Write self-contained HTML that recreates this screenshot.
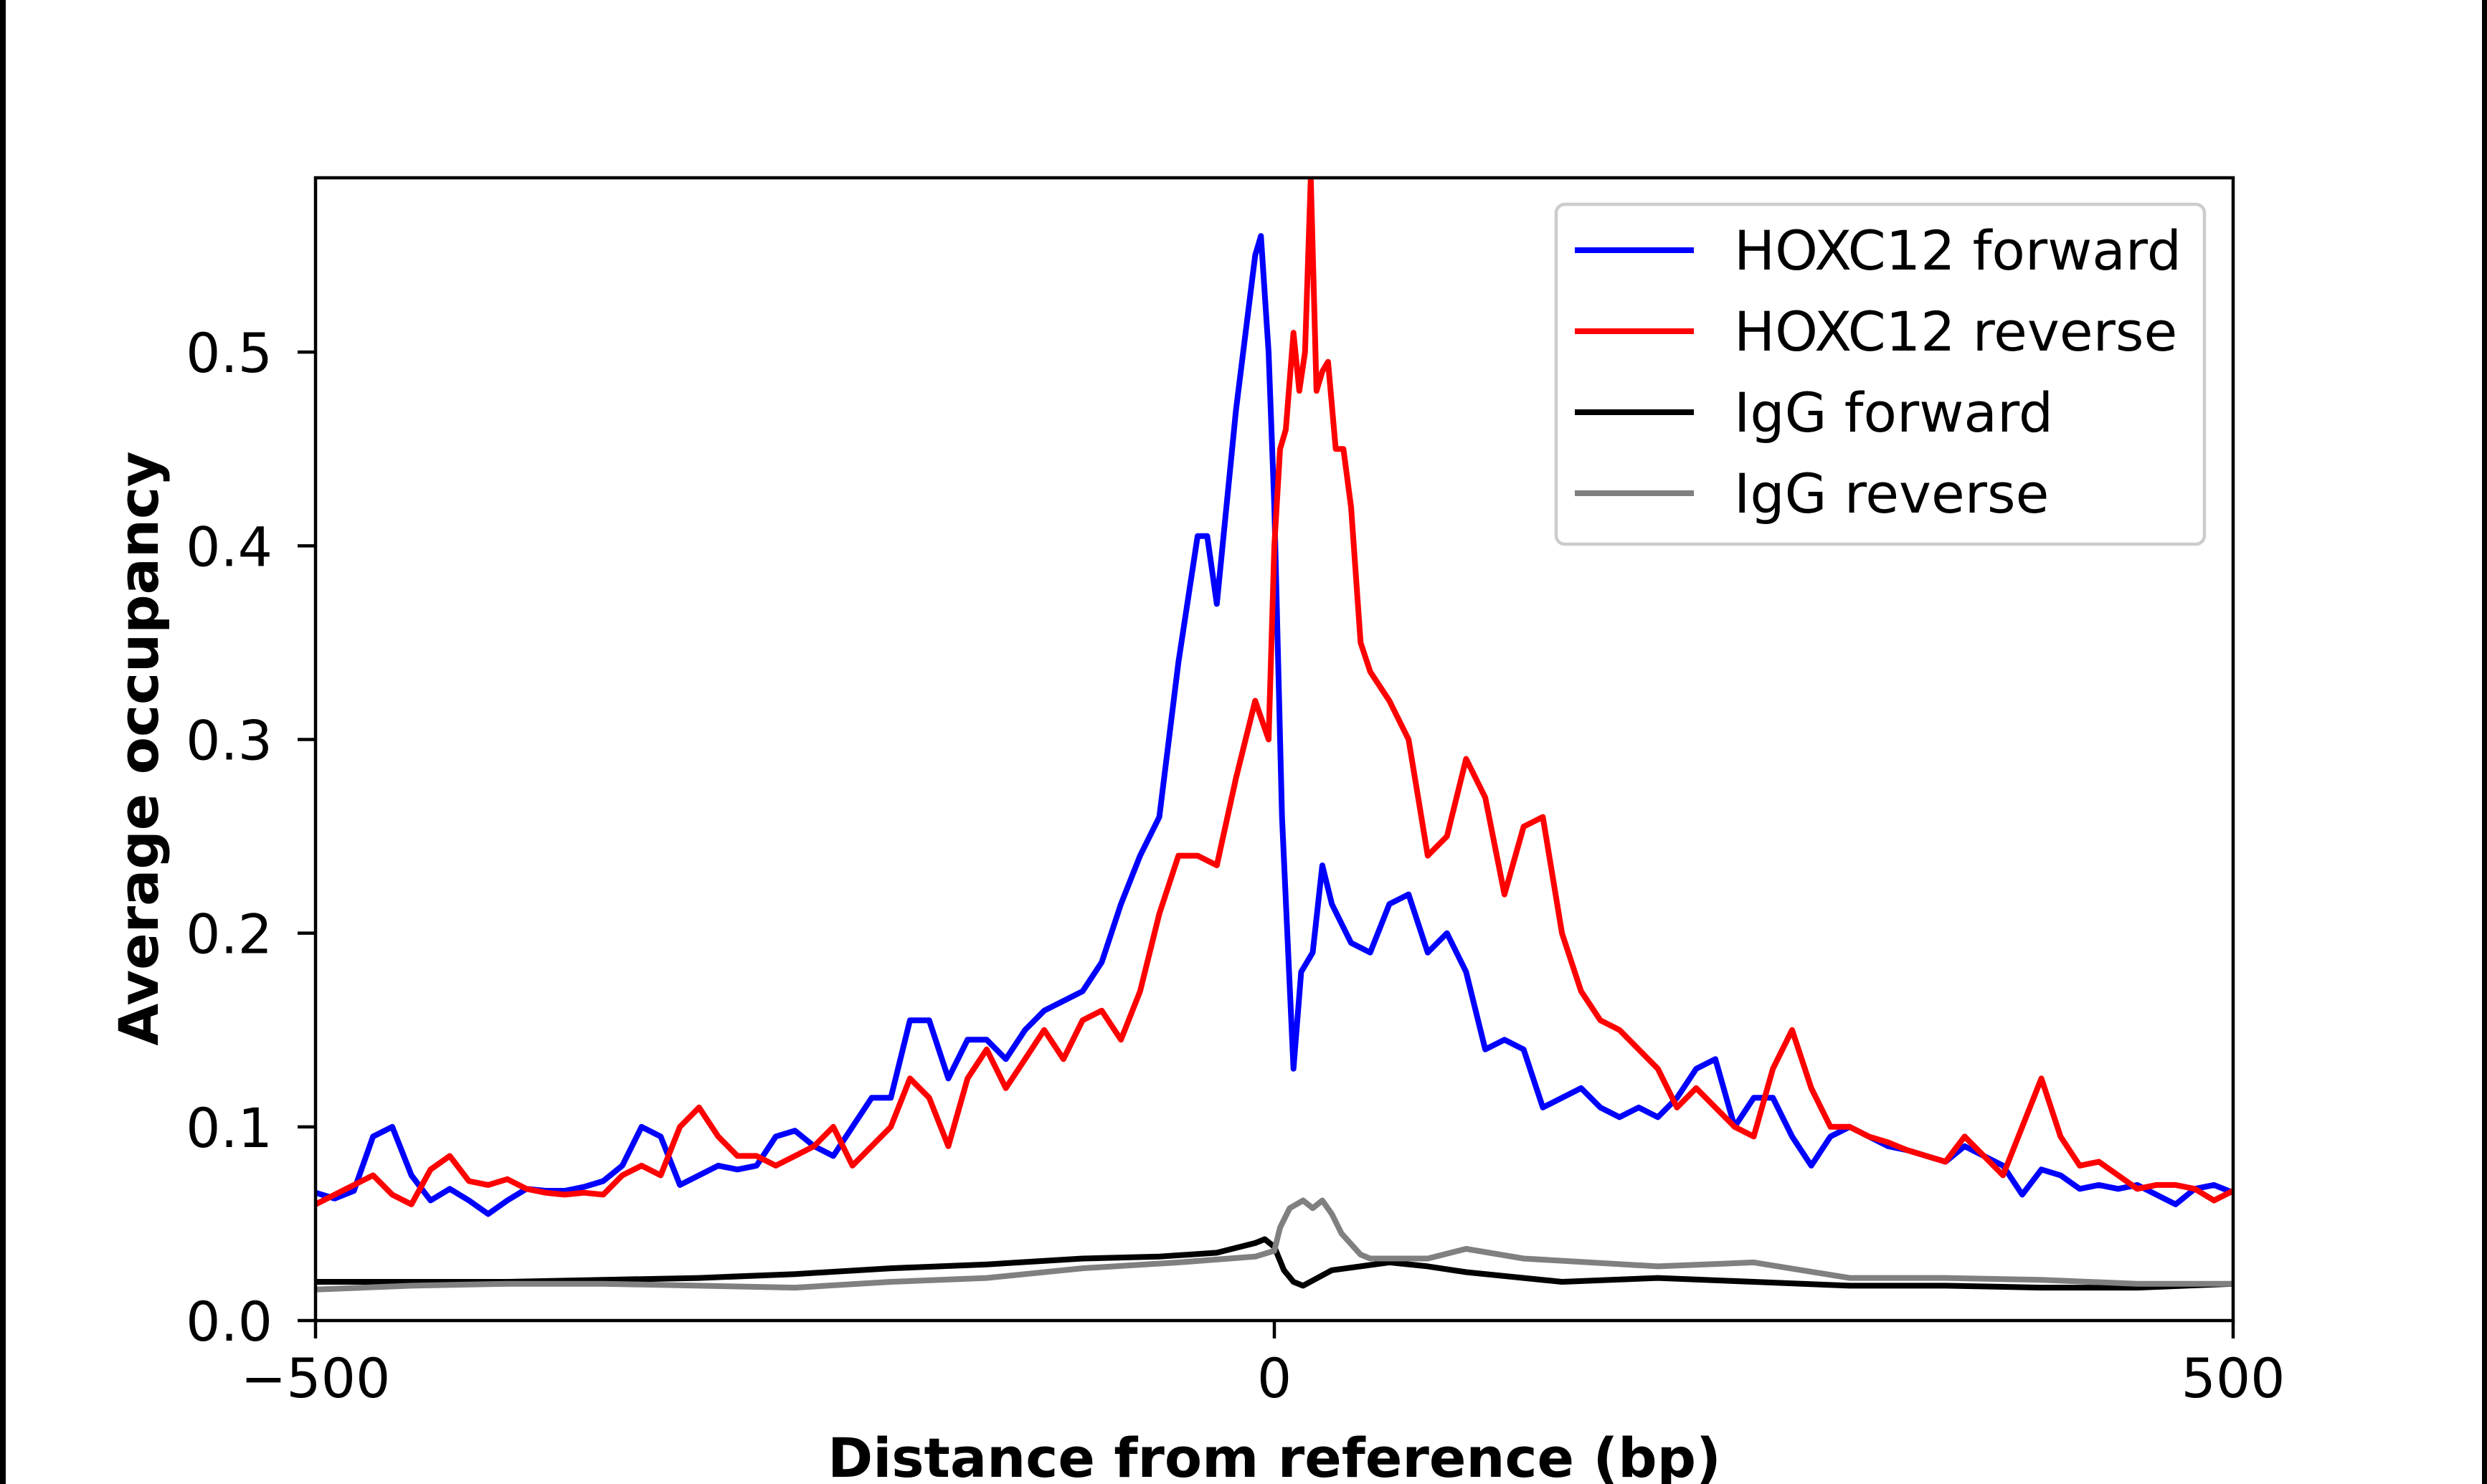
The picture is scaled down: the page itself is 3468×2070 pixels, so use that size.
<!DOCTYPE html>
<html><head><meta charset="utf-8"><style>
html,body{margin:0;padding:0;background:#fff;}
svg{display:block;font-family:"DejaVu Sans","Liberation Sans",sans-serif;}
</style></head><body>
<svg id="chart" width="3468" height="2070" viewBox="0 0 3468 2070" xmlns="http://www.w3.org/2000/svg">
<rect x="0" y="0" width="3468" height="2070" fill="#fff"/>
<rect x="0" y="0" width="8" height="2070" fill="#000"/>
<rect x="3461" y="0" width="7" height="2070" fill="#000"/>
<g id="series"></g>
<g id="axes"></g>
<g id="legend"></g>
</svg>
<script>
const xDomain = [-500, 500];
const yDomain = [0, 0.59];
const yTicks = [0.0, 0.1, 0.2, 0.3, 0.4, 0.5];
const yTickLabels = ["0.0", "0.1", "0.2", "0.3", "0.4", "0.5"];
const xTicks = [-500, 0, 500];
const xTickLabels = ["\u2212500", "0", "500"];
const seriesNames = ["HOXC12 forward", "HOXC12 reverse", "IgG forward", "IgG reverse"];

const blueX = [-500,-490,-480,-470,-460,-450,-440,-430,-420,-410,-400,-390,-380,-370,-360,-350,-340,-330,-320,-310,-300,-290,-280,-270,-260,-250,-240,-230,-220,-210,-200,-190,-180,-170,-160,-150,-140,-130,-120,-110,-100,-90,-80,-70,-60,-50,-40,-35,-30,-20,-10,-7,-3,0,4,10,14,20,25,30,40,50,60,70,80,90,100,110,120,130,140,150,160,170,180,190,200,210,220,230,240,250,260,270,280,290,300,310,320,330,340,350,360,370,380,390,400,410,420,430,440,450,460,470,480,490,500];
const blueY = [0.066,0.063,0.067,0.095,0.100,0.075,0.062,0.068,0.062,0.055,0.062,0.068,0.067,0.067,0.069,0.072,0.080,0.100,0.095,0.070,0.075,0.080,0.078,0.080,0.095,0.098,0.090,0.085,0.100,0.115,0.115,0.155,0.155,0.125,0.145,0.145,0.135,0.150,0.160,0.165,0.170,0.185,0.215,0.240,0.260,0.340,0.405,0.405,0.370,0.470,0.550,0.560,0.500,0.420,0.260,0.130,0.180,0.190,0.235,0.215,0.195,0.190,0.215,0.220,0.190,0.200,0.180,0.140,0.145,0.140,0.110,0.115,0.120,0.110,0.105,0.110,0.105,0.115,0.130,0.135,0.100,0.115,0.115,0.095,0.080,0.095,0.100,0.095,0.090,0.088,0.085,0.082,0.090,0.085,0.080,0.065,0.078,0.075,0.068,0.070,0.068,0.070,0.065,0.060,0.068,0.070,0.066];

const redX = [-500,-490,-480,-470,-460,-450,-440,-430,-420,-410,-400,-390,-380,-370,-360,-350,-340,-330,-320,-310,-300,-290,-280,-270,-260,-250,-240,-230,-220,-210,-200,-190,-180,-170,-160,-150,-140,-130,-120,-110,-100,-90,-80,-70,-60,-50,-40,-30,-20,-10,-3,0,3,6,10,13,16,19,22,25,28,32,36,40,45,50,60,70,80,90,100,110,120,130,140,150,160,170,180,190,200,210,220,230,240,250,260,270,280,290,300,310,320,330,340,350,360,370,380,390,400,410,420,430,440,450,460,470,480,490,500];
const redY = [0.060,0.065,0.070,0.075,0.065,0.060,0.078,0.085,0.072,0.070,0.073,0.068,0.066,0.065,0.066,0.065,0.075,0.080,0.075,0.100,0.110,0.095,0.085,0.085,0.080,0.085,0.090,0.100,0.080,0.090,0.100,0.125,0.115,0.090,0.125,0.140,0.120,0.135,0.150,0.135,0.155,0.160,0.145,0.170,0.210,0.240,0.240,0.235,0.280,0.320,0.300,0.400,0.450,0.460,0.510,0.480,0.500,0.590,0.480,0.490,0.495,0.450,0.450,0.420,0.350,0.335,0.320,0.300,0.240,0.250,0.290,0.270,0.220,0.255,0.260,0.200,0.170,0.155,0.150,0.140,0.130,0.110,0.120,0.110,0.100,0.095,0.130,0.150,0.120,0.100,0.100,0.095,0.092,0.088,0.085,0.082,0.095,0.085,0.075,0.100,0.125,0.095,0.080,0.082,0.075,0.068,0.070,0.070,0.068,0.062,0.067];

const blackX = [-500,-450,-400,-350,-300,-250,-200,-150,-100,-60,-30,-10,-5,0,5,10,15,30,60,80,100,150,200,250,300,350,400,450,500];
const blackY = [0.020,0.020,0.020,0.021,0.022,0.024,0.027,0.029,0.032,0.033,0.035,0.040,0.042,0.038,0.026,0.020,0.018,0.026,0.030,0.028,0.025,0.020,0.022,0.020,0.018,0.018,0.017,0.017,0.019];

const grayX = [-500,-450,-400,-350,-300,-250,-200,-150,-100,-50,-10,0,3,8,15,20,25,30,35,45,50,80,100,130,200,250,300,350,400,450,500];
const grayY = [0.016,0.018,0.019,0.019,0.018,0.017,0.020,0.022,0.027,0.030,0.033,0.036,0.048,0.058,0.062,0.058,0.062,0.055,0.045,0.034,0.032,0.032,0.037,0.032,0.028,0.030,0.022,0.022,0.021,0.019,0.019];

const L = 440, R = 3114, T = 248, B = 1842;
const NS = "http://www.w3.org/2000/svg";
function sx(v){ return L + (v - xDomain[0]) / (xDomain[1] - xDomain[0]) * (R - L); }
function sy(v){ return B - (v - yDomain[0]) / (yDomain[1] - yDomain[0]) * (B - T); }
function mk(tag, attrs, parent){
  const e = document.createElementNS(NS, tag);
  for (const k in attrs) e.setAttribute(k, attrs[k]);
  parent.appendChild(e);
  return e;
}
const gS = document.getElementById('series');
const gA = document.getElementById('axes');
const gL = document.getElementById('legend');

const defs = mk('defs', {}, gS);
const cp = mk('clipPath', {id:'clip'}, defs);
mk('rect', {x:L, y:T, width:R-L, height:B-T}, cp);

const series = [
  {xs: blueX, ys: blueY, color: '#0000ff', name: 'hoxc12-forward-line'},
  {xs: redX, ys: redY, color: '#ff0000', name: 'hoxc12-reverse-line'},
  {xs: blackX, ys: blackY, color: '#000000', name: 'igg-forward-line'},
  {xs: grayX, ys: grayY, color: '#808080', name: 'igg-reverse-line'}
];
series.forEach(s => {
  const d = s.xs.map((x, i) => (i ? 'L' : 'M') + sx(x).toFixed(1) + ',' + sy(s.ys[i]).toFixed(1)).join(' ');
  const p = mk('path', {d: d, fill: 'none', stroke: s.color, 'stroke-width': 8, 'stroke-linejoin': 'round', 'clip-path': 'url(#clip)'}, gS);
  
  
});

const frame = mk('rect', {x:L, y:T, width:R-L, height:B-T, fill:'none', stroke:'#000', 'stroke-width':4.5}, gA);



yTicks.forEach((v, i) => {
  const y = sy(v);
  const t = mk('line', {x1:L-25, x2:L, y1:y, y2:y, stroke:'#000', 'stroke-width':4.5}, gA);
  
  
  const tx = mk('text', {x:L-60, y:y+28, 'text-anchor':'end', 'font-size':76, fill:'#000'}, gA);
  tx.textContent = yTickLabels[i];
  
  
});
xTicks.forEach((v, i) => {
  const x = sx(v);
  const t = mk('line', {x1:x, x2:x, y1:B, y2:B+25, stroke:'#000', 'stroke-width':4.5}, gA);
  
  
  const tx = mk('text', {x:x, y:B+107, 'text-anchor':'middle', 'font-size':76, fill:'#000'}, gA);
  tx.textContent = xTickLabels[i];
  
  
});
const xl = mk('text', {x:(L+R)/2, y:2060, 'text-anchor':'middle', 'font-size':76, 'font-weight':'bold', fill:'#000'}, gA);
xl.textContent = 'Distance from reference (bp)';


const yl = mk('text', {x:0, y:0, 'text-anchor':'middle', 'font-size':76, 'font-weight':'bold', fill:'#000', transform:'translate(220,1044) rotate(-90)'}, gA);
yl.textContent = 'Average occupancy';



const lb = mk('rect', {x:2170, y:285, width:904, height:474, rx:12, fill:'#fff', 'fill-opacity':0.8, stroke:'#cccccc', 'stroke-width':4.5}, gL);


const rowsY = [349, 462, 575, 688];
seriesNames.forEach((n, i) => {
  const g = mk('g', {}, gL);
  
  
  mk('line', {x1:2196, x2:2362, y1:rowsY[i], y2:rowsY[i], stroke:series[i].color, 'stroke-width':8}, g);
  const t = mk('text', {x:2418, y:rowsY[i]+27, 'font-size':76, fill:'#000'}, g);
  t.textContent = n;
});
</script>
</body></html>
